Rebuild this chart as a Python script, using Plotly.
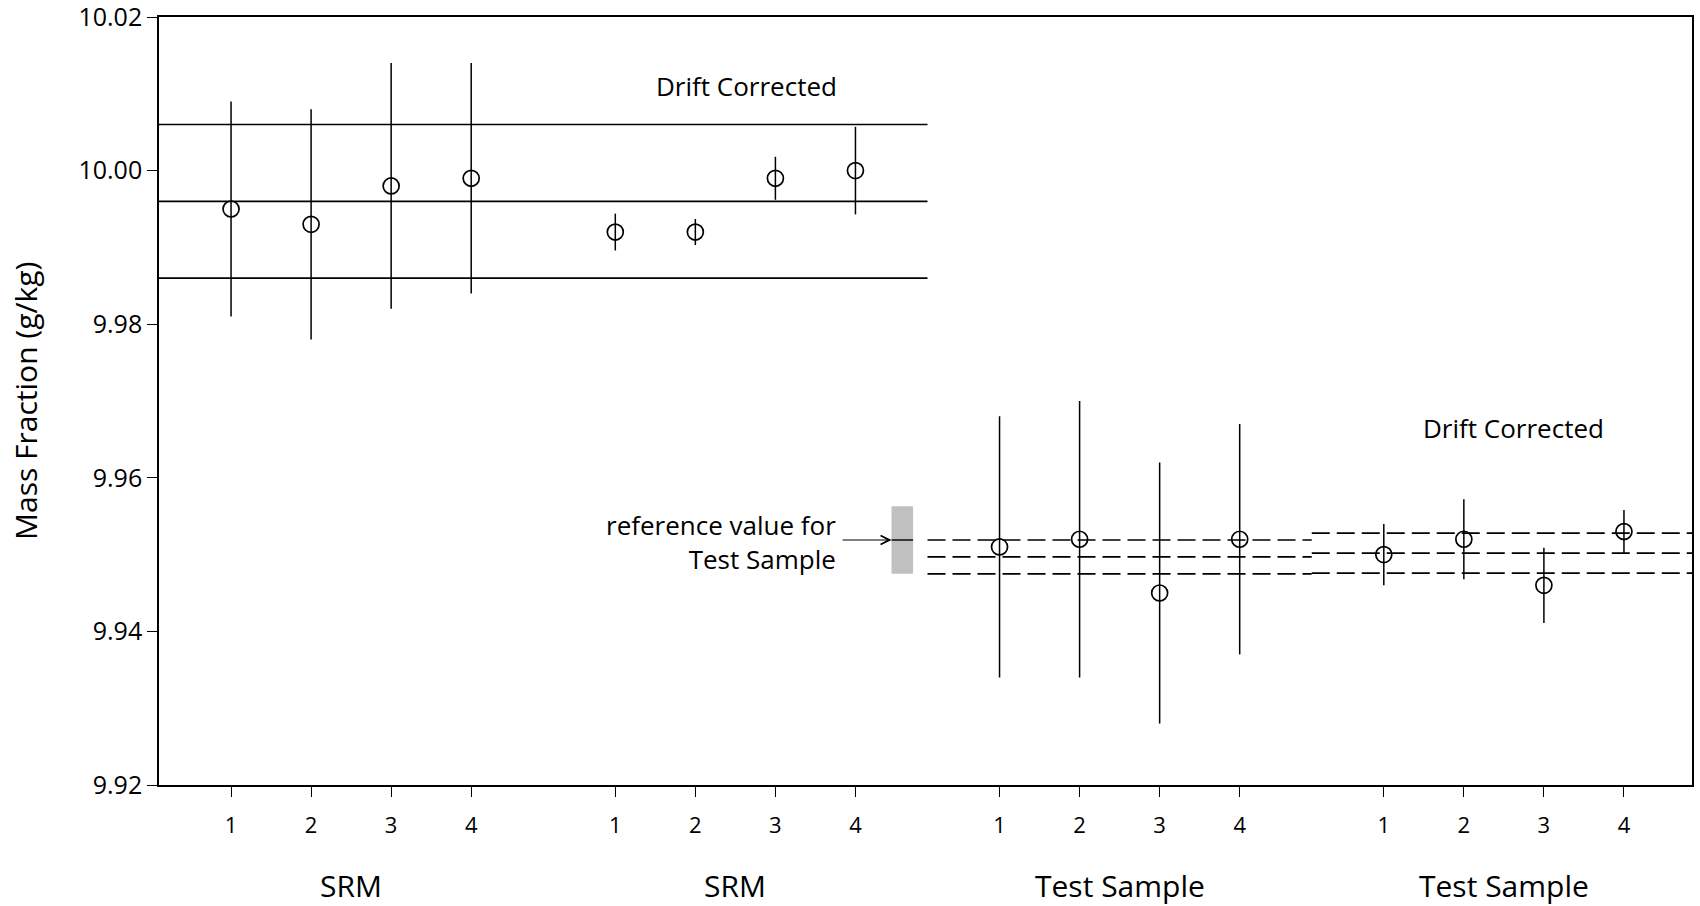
import plotly.graph_objects as go

# ---- data ----
panel_names = ["SRM", "SRM", "Test Sample", "Test Sample"]
run_labels = ["1", "2", "3", "4"]

srm_raw = [9.995, 9.993, 9.998, 9.999]
srm_raw_err = [0.014, 0.015, 0.016, 0.015]
srm_corr = [9.992, 9.992, 9.999, 10.000]
srm_corr_err = [0.0024, 0.0017, 0.0028, 0.0057]
test_raw = [9.951, 9.952, 9.945, 9.952]
test_raw_err = [0.017, 0.018, 0.017, 0.015]
test_corr = [9.950, 9.952, 9.946, 9.953]
test_corr_err = [0.004, 0.0052, 0.0049, 0.0028]

srm_cert = [10.006, 9.996, 9.986]          # SRM certified value and limits
test_raw_band = [9.9519, 9.9497, 9.9475]   # mean +/- u, test sample raw
test_corr_band = [9.9528, 9.9502, 9.9476]  # mean +/- u, test sample corrected
ref_value = 9.9519
ref_unc = 0.0044

series = [(srm_raw, srm_raw_err), (srm_corr, srm_corr_err),
          (test_raw, test_raw_err), (test_corr, test_corr_err)]

PANEL = 4.8
FONT = "Open Sans"

fig = go.Figure()

# reference band (grey box)
fig.add_shape(type="rect", xref="x", yref="y", x0=9.25, x1=9.52,
              y0=ref_value - ref_unc, y1=ref_value + ref_unc,
              fillcolor="#c0c0c0", line=dict(width=0), layer="below")
fig.add_trace(go.Scatter(x=[9.25, 9.52], y=[ref_value, ref_value], mode="lines",
                         line=dict(color="black", width=1.4), showlegend=False,
                         hoverinfo="skip"))

# SRM certified lines spanning first two panels
for v in srm_cert:
    fig.add_trace(go.Scatter(x=[0.1, 0.1 + 2 * PANEL], y=[v, v], mode="lines",
                             line=dict(color="black", width=1.7), showlegend=False,
                             hoverinfo="skip"))
# dashed bands test sample
for v in test_raw_band:
    fig.add_trace(go.Scatter(x=[0.1 + 2 * PANEL, 0.1 + 3 * PANEL], y=[v, v], mode="lines",
                             line=dict(color="black", width=1.7, dash="18px,7px"),
                             showlegend=False, hoverinfo="skip"))
for v in test_corr_band:
    fig.add_trace(go.Scatter(x=[0.1 + 3 * PANEL, 19.25], y=[v, v], mode="lines",
                             line=dict(color="black", width=1.7, dash="18px,7px"),
                             showlegend=False, hoverinfo="skip"))

tickvals, ticktext = [], []
for k, (vals, errs) in enumerate(series):
    xs = [i + 1 + PANEL * k for i in range(len(vals))]
    tickvals += xs
    ticktext += run_labels
    fig.add_trace(go.Scatter(
        x=xs, y=vals, mode="markers",
        marker=dict(symbol="circle-open", size=16, color="black", line=dict(width=1.7)),
        error_y=dict(type="data", array=errs, visible=True, color="black",
                     thickness=1.5, width=0),
        showlegend=False))

# group labels
for k, name in enumerate(panel_names):
    fig.add_annotation(x=2.5 + PANEL * k, y=0, xref="x", yref="paper", text=name,
                       showarrow=False, yanchor="middle", yshift=-100,
                       font=dict(family=FONT, size=30, color="black"))

fig.add_annotation(x=7.44, y=10.011, xref="x", yref="y", text="Drift Corrected",
                   showarrow=False, font=dict(family=FONT, size=26, color="black"))
fig.add_annotation(x=17.02, y=9.9665, xref="x", yref="y", text="Drift Corrected",
                   showarrow=False, font=dict(family=FONT, size=26, color="black"))

fig.add_annotation(x=8.585, y=9.9516, xref="x", yref="y",
                   text="reference value for<br>Test Sample", align="right",
                   xanchor="right", yanchor="middle", showarrow=False,
                   font=dict(family=FONT, size=26, color="black"))
fig.add_annotation(x=9.25, y=ref_value, ax=8.62, ay=ref_value, xref="x", yref="y",
                   axref="x", ayref="y", text="", showarrow=True, arrowhead=5,
                   arrowsize=1.6, arrowwidth=1.1, arrowcolor="black", standoff=0)

fig.add_annotation(x=0, y=0.5, xref="paper", yref="paper", text="Mass Fraction (g/kg)",
                   textangle=-90, showarrow=False, xanchor="center", yanchor="middle",
                   xshift=-134, font=dict(family=FONT, size=30, color="black"))

fig.update_layout(
    width=1700, height=906,
    margin=dict(l=159, r=8, t=17, b=121, autoexpand=False),
    plot_bgcolor="white", paper_bgcolor="white",
    font=dict(family=FONT, color="black"),
    xaxis=dict(range=[0.1, 19.25], tickvals=tickvals, ticktext=ticktext,
               showgrid=False, zeroline=False, showline=True, linecolor="black",
               linewidth=1.6, mirror=True, ticks="outside", ticklen=10,
               tickcolor="black", tickwidth=1.4, tickfont=dict(size=22),
               ticklabelstandoff=10, automargin=False),
    yaxis=dict(range=[9.92, 10.02], tickvals=[9.92, 9.94, 9.96, 9.98, 10.00, 10.02],
               tickformat=".2f", showgrid=False, zeroline=False, showline=True,
               linecolor="black", linewidth=1.6, mirror=True, ticks="outside",
               ticklen=10, tickcolor="black", tickwidth=1.4, tickfont=dict(size=25),
               ticklabeloverflow="allow", automargin=False),
)

fig.write_html("out.html")
